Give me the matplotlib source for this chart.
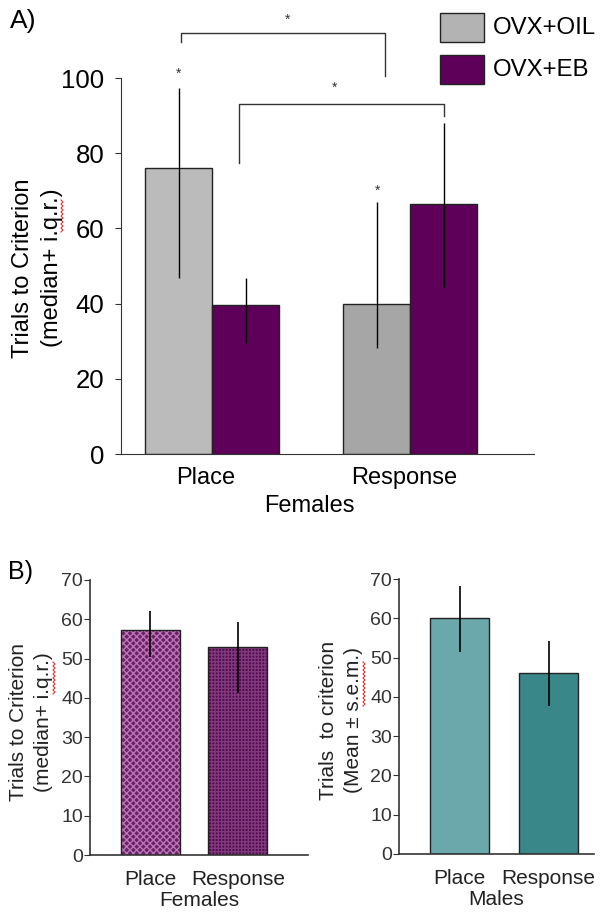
import numpy as np
import matplotlib.pyplot as plt
from matplotlib.patches import Rectangle
from matplotlib.lines import Line2D

plt.rcParams['font.family'] = ['Liberation Sans', 'DejaVu Sans']
plt.rcParams['hatch.linewidth'] = 1.0

# Dados - painel A (fêmeas OVX, mediana e intervalo interquartil)
tarefas = ['Place', 'Response']
oil_mediana = [76, 40]
oil_inf = [46.8, 28.2]
oil_sup = [97.3, 67]
eb_mediana = [39.6, 66.5]
eb_inf = [29.5, 44.4]
eb_sup = [46.8, 88]
grupos = ['OVX+OIL', 'OVX+EB']

# Dados - painel B
femeas_mediana = [57.3, 52.9]
femeas_inf = [50.4, 41.2]
femeas_sup = [62.1, 59.3]
machos_media = [60, 46]
machos_inf = [51.4, 37.7]
machos_sup = [68.2, 54.2]

W, H = 611, 917
fig = plt.figure(figsize=(W / 100, H / 100), dpi=100)


def px_ax(x0, y0, x1, y1):
    # converte caixa em pixels (topo-esquerda) para coordenadas da figura
    return [x0 / W, 1 - y1 / H, (x1 - x0) / W, (y1 - y0) / H]


def erro(med, inf, sup):
    med = np.array(med)
    return [med - np.array(inf), np.array(sup) - med]


def sublinhado(xp, y0, y1):
    # sublinhado ondulado vermelho (corretor ortográfico), texto rotacionado
    yy = np.arange(y0, y1 + 0.1, 2.0)
    xx = xp + np.where(np.arange(len(yy)) % 2 == 0, -1.0, 1.0)
    fig.add_artist(Line2D(xx / W, 1 - yy / H, transform=fig.transFigure,
                          color='#E03030', lw=0.8))


# ---------------- Painel A ----------------
axA = fig.add_axes(px_ax(121, 78, 534, 454))
x = np.arange(len(tarefas))
w = 0.338
cores_oil = ['#BBBBBB', '#A6A6A6']
cor_eb = '#5E005A'

axA.bar(x - w / 2, oil_mediana, w, color=cores_oil, edgecolor='#222222', linewidth=1)
axA.bar(x + w / 2, eb_mediana, w, color=cor_eb, edgecolor='#222222', linewidth=1)
axA.errorbar(x - w / 2, oil_mediana, yerr=erro(oil_mediana, oil_inf, oil_sup),
             fmt='none', ecolor='black', elinewidth=1, capsize=0)
axA.errorbar(x + w / 2, eb_mediana, yerr=erro(eb_mediana, eb_inf, eb_sup),
             fmt='none', ecolor='black', elinewidth=1, capsize=0)

axA.set_xlim(-0.46, 1.626)
axA.set_ylim(0, 100)
axA.set_yticks([0, 20, 40, 60, 80, 100])
axA.set_xticks(x - 0.03)
axA.set_xticklabels(tarefas, fontsize=17)
axA.tick_params(axis='y', labelsize=18.5, length=4, pad=8, color='#333333')
axA.tick_params(axis='x', length=0, pad=9)
axA.spines[['top', 'right']].set_visible(False)
axA.spines[['left', 'bottom']].set_color('#333333')
axA.set_xlabel('Females', fontsize=17, labelpad=5)
axA.xaxis.label.set_x(0.456)

# colchetes de significância
cor_c = '#333333'
axA.plot([-0.157, -0.157, 0.872, 0.872], [109.6, 112, 112, 100.5],
         color=cor_c, lw=1, clip_on=False)
axA.plot([0.134, 0.134, 1.17, 1.17], [77.4, 93, 93, 90],
         color=cor_c, lw=1, clip_on=False)
axA.text(0.382, 115.5, '*', ha='center', va='center', fontsize=10, color=cor_c)
axA.text(0.62, 97.5, '*', ha='center', va='center', fontsize=10, color=cor_c)
axA.text(x[0] - w / 2, 101, '*', ha='center', va='center', fontsize=10, color=cor_c)
axA.text(x[1] - w / 2 + 0.005, 70, '*', ha='center', va='center', fontsize=10, color=cor_c)

fig.text(37.5 / W, 1 - 268 / H, 'Trials to Criterion\n(median+ i.q.r.)',
         rotation=90, ha='center', va='center', fontsize=17, multialignment='center',
         linespacing=1.45)
sublinhado(62, 200, 232)
fig.text(10 / W, 1 - 21 / H, 'A)', fontsize=19, ha='left', va='center')

# legenda
for i, (g, c) in enumerate(zip(grupos, ['#B3B3B3', cor_eb])):
    y0 = 13 + i * 42
    fig.add_artist(Rectangle((440 / W, 1 - (y0 + 29) / H), 44 / W, 29 / H,
                             transform=fig.transFigure, facecolor=c,
                             edgecolor='#222222', linewidth=1))
    fig.text(493 / W, 1 - (y0 + 14.5) / H, g, fontsize=17.3, ha='left', va='center')

# ---------------- Painel B ----------------
cor_txt = '#333333'


def estilo_b(ax, xlim, rotulo_x):
    ax.set_xlim(*xlim)
    ax.set_ylim(0, 70)
    ax.set_yticks(range(0, 71, 10))
    ax.set_xticks([0, 1])
    ax.set_xticklabels(tarefas, fontsize=15, color='#222222')
    ax.tick_params(axis='y', labelsize=14, length=4, pad=1, colors=cor_txt)
    ax.tick_params(axis='x', length=0, pad=11)
    ax.spines[['top', 'right']].set_visible(False)
    ax.spines[['left', 'bottom']].set_color(cor_txt)
    ax.spines[['left', 'bottom']].set_linewidth(1.2)
    ax.set_xlabel(rotulo_x, fontsize=15, labelpad=1, color='#222222')


xb = np.arange(2)
axB1 = fig.add_axes(px_ax(90, 580, 308, 855))
wb = 0.674
axB1.bar(xb, femeas_mediana, wb, color=['#6E1E6A', '#540A50'],
         edgecolor=['#B878B4', '#7E3A7A'], hatch=['xxxxx', '+++++'], linewidth=0)
axB1.bar(xb, femeas_mediana, wb, fill=False, edgecolor='#222222', linewidth=1)
axB1.errorbar(xb, femeas_mediana, yerr=erro(femeas_mediana, femeas_inf, femeas_sup),
              fmt='none', ecolor='black', elinewidth=1.2, capsize=0)
estilo_b(axB1, (-0.691, 1.8), 'Females')
fig.text(31 / W, 1 - 722 / H, 'Trials to Criterion\n(median+ i.q.r.)',
         rotation=90, ha='center', va='center', fontsize=15, multialignment='center',
         linespacing=1.35, color='#222222')
sublinhado(54, 662, 694)
fig.text(8 / W, 1 - 572 / H, 'B)', fontsize=18, ha='left', va='center')

axB2 = fig.add_axes(px_ax(399, 579, 594, 854))
wm = 0.663
axB2.bar(xb, machos_media, wm, color=['#6AA8AC', '#3A878A'],
         edgecolor='#222222', linewidth=1)
axB2.errorbar(xb, machos_media, yerr=erro(machos_media, machos_inf, machos_sup),
              fmt='none', ecolor='black', elinewidth=1.2, capsize=0)
estilo_b(axB2, (-0.68, 1.511), 'Males')
fig.text(341 / W, 1 - 720 / H, 'Trials  to criterion\n(Mean ± s.e.m.)',
         rotation=90, ha='center', va='center', fontsize=15, multialignment='center',
         linespacing=1.35, color='#222222')
sublinhado(364, 662, 706)

fig.savefig('out.png', dpi=100)
